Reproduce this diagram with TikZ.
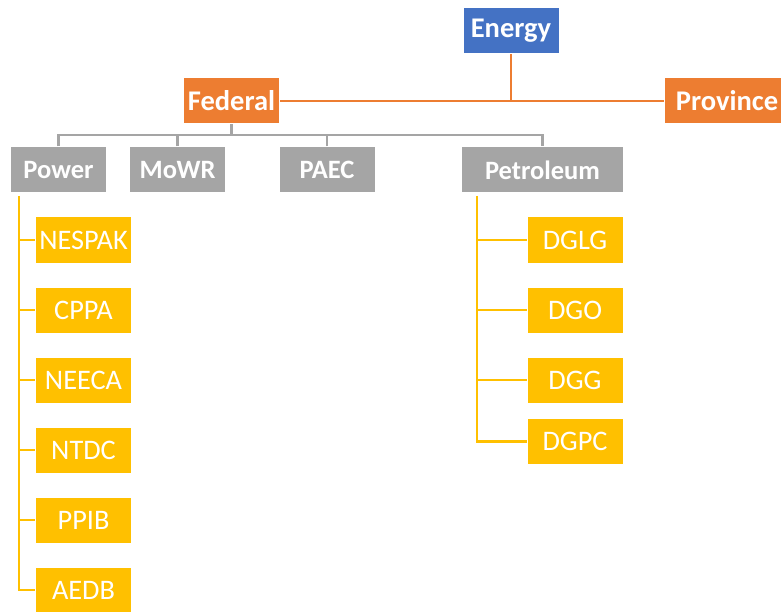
\documentclass[tikz,border=0pt]{standalone}
\usepackage{fontspec}
\setmainfont{Carlito}
\definecolor{eblue}{HTML}{4472C4}
\definecolor{eorange}{HTML}{ED7D31}
\definecolor{egray}{HTML}{A5A5A5}
\definecolor{eyellow}{HTML}{FFC000}
\tikzset{
  box/.style={draw=white, line width=1pt, text=white, inner sep=0pt, minimum height=46pt, anchor=center},
  topbox/.style={box, fill=#1, font=\fontsize{28.5}{30}\selectfont\bfseries},
  graybox/.style={box, fill=egray, font=\fontsize{26.5}{30}\selectfont\bfseries},
  yelbox/.style={box, fill=eyellow, minimum width=96pt, font=\fontsize{28.3}{30}\selectfont},
  oline/.style={draw=eorange, line width=2.8pt},
  gline/.style={draw=egray, line width=2.8pt},
  yline/.style={draw=eyellow, line width=2.8pt},
}
\begin{document}
\begin{tikzpicture}[x=1pt,y=-1pt]
\useasboundingbox (0,0) rectangle (781,612);
% top level
\node[topbox=eblue, minimum width=96pt] (energy) at (511,31) {Energy};
\node[topbox=eorange, minimum width=96pt] (federal) at (231.5,101) {Federal};
\node[topbox=eorange, minimum width=126pt] (province) at (727,101) {Province};
% second level
\node[graybox, minimum width=96pt] (power) at (58.5,170) {Power};
\node[graybox, minimum width=96pt] (mowr) at (177.5,170) {MoWR};
\node[graybox, minimum width=96pt] (paec) at (327,170) {PAEC};
\node[graybox, minimum width=162pt] (petroleum) at (542.5,170) {Petroleum};
% power children
\node[yelbox] (nespak) at (83.5,240) {NESPAK};
\node[yelbox] (cppa) at (83.5,310) {CPPA};
\node[yelbox] (neeca) at (83.5,380) {NEECA};
\node[yelbox] (ntdc) at (83.5,450) {NTDC};
\node[yelbox] (ppib) at (83.5,520) {PPIB};
\node[yelbox] (aedb) at (83.5,590) {AEDB};
% petroleum children
\node[yelbox] (dglg) at (575,240) {DGLG};
\node[yelbox] (dgo) at (575,310) {DGO};
\node[yelbox] (dgg) at (575,380) {DGG};
\node[yelbox] (dgpc) at (575,441.5) {DGPC};
% orange connectors
\draw[oline] (federal.east) -- (province.west);
\draw[oline] (energy.south) -- (energy.south |- federal.east);
% gray connectors
\coordinate (bus) at (0,135);
\draw[gline] (power.north) -- (power.north |- bus) -- (petroleum.north |- bus) -- (petroleum.north);
\draw[gline] (federal.south) -- (federal.south |- bus);
\draw[gline] (mowr.north) -- (mowr.north |- bus);
\draw[gline] (paec.north) -- (paec.north |- bus);
% yellow connectors, power
\coordinate (pv) at (19,196);
\draw[yline] (pv) |- (aedb.west);
\foreach \c in {nespak,cppa,neeca,ntdc,ppib}
  \draw[yline] (pv |- \c.west) -- (\c.west);
% yellow connectors, petroleum
\coordinate (qv) at (477,196);
\draw[yline] (qv) |- (dgpc.west);
\foreach \c in {dglg,dgo,dgg}
  \draw[yline] (qv |- \c.west) -- (\c.west);
\end{tikzpicture}
\end{document}
